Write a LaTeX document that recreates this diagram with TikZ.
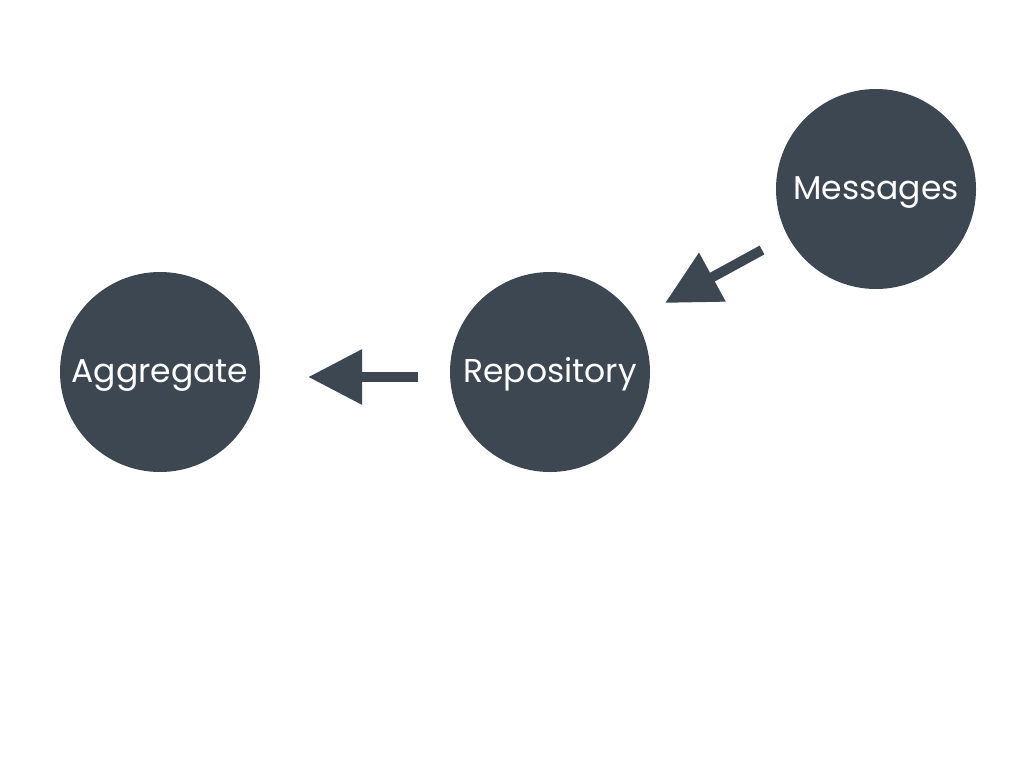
\documentclass[tikz,border=0pt]{standalone}
\usepackage{fontspec}
\setmainfont{Poppins}
\usetikzlibrary{arrows.meta}
\definecolor{slate}{HTML}{3D4752}
\begin{document}
\begin{tikzpicture}[x=1pt,y=-1pt,
  entity/.style={circle,fill=slate,minimum size=200pt,inner sep=0pt,
    text=white,font=\fontsize{33}{38}\selectfont,
    text height=30pt,text depth=9pt},
  flow/.style={draw=slate,line width=10pt,
    -{Triangle[length=54pt,width=53pt]}}]
  \useasboundingbox (0,0) rectangle (1024,768);
  \node[entity] (agg) at (160,372) {Aggregate};
  \node[entity] (rep) at (550,372) {Repository};
  \node[entity] (msg) at (876,189) {Messages};
  % arrow ends, set off from the circles they join
  \coordinate (r1) at ([shift={(-32,5)}]rep.west);
  \coordinate (a1) at ([shift={(48,5)}]agg.east);
  \coordinate (m2) at ([shift={(-114,61)}]msg.center);
  \coordinate (r2) at ([shift={(-211,114)}]msg.center);
  \draw[flow] (r1) -- (a1);
  \draw[flow] (m2) -- (r2);
\end{tikzpicture}
\end{document}
